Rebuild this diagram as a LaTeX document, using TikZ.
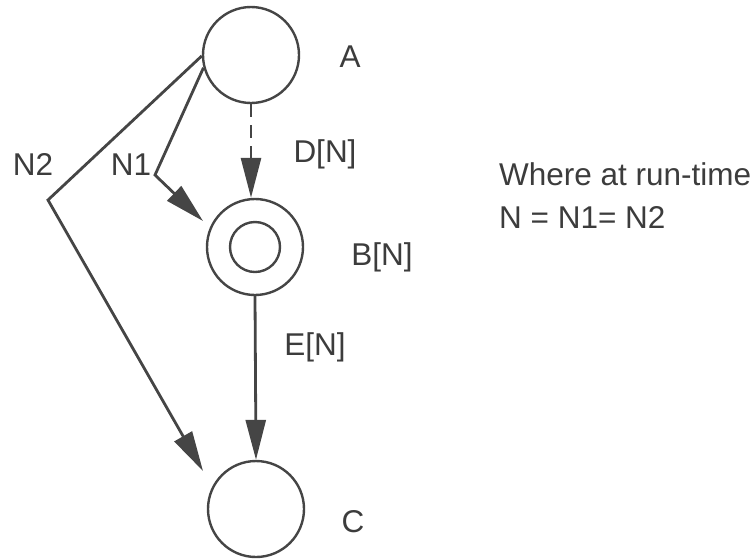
\documentclass[tikz,border=0pt]{standalone}
\usepackage{fontspec}
\setmainfont{Liberation Sans}
\usetikzlibrary{arrows.meta}
\definecolor{ink}{HTML}{454545}
\definecolor{txt}{HTML}{3C3C3C}
\begin{document}
\begin{tikzpicture}[x=1pt,y=-1pt,
  state/.style={circle,draw=ink,line width=2.4pt,minimum size=96pt,inner sep=0pt},
  inner/.style={circle,draw=ink,line width=2.4pt,minimum size=50pt,inner sep=0pt},
  lbl/.style={text=txt,anchor=base,inner sep=0pt,font=\fontsize{31.5}{43}\selectfont},
  conn/.style={draw=ink,line width=2.8pt,line join=miter,-{Triangle[length=40pt,width=20pt]}},
  dashconn/.style={conn,dash pattern=on 13pt off 8pt}]
  \useasboundingbox (0,0) rectangle (754,558);

  % states
  \node[state] (A) at (251,55) {};
  \node[state] (B) at (255,247) {};
  \node[inner] (Bi) at (255,247) {};
  \node[state] (C) at (256,509) {};

  % bend points and free ends of the N1 / N2 connectors
  \coordinate (n1bend) at (155,175);
  \coordinate (n1end) at (203,221);
  \coordinate (n2bend) at (48,200);
  \coordinate (n2end) at (203,471);

  % connectors
  \draw[dashconn] (A.south) -- (A.south |- B.north);
  \draw[conn] (B.south) -- (C.north);
  \draw[conn] (A.195) -- (n1bend) -- (n1end);
  \draw[conn] (A.181) -- (n2bend) -- (n2end);

  % labels
  \node[lbl] (la) at (350,67) {A};
  \node[lbl] (ld) at (325,162) {D[N]};
  \node[lbl] (lb) at (382,265) {B[N]};
  \node[lbl] (le) at (315,355) {E[N]};
  \node[lbl] (lc) at (353,532) {C};
  \node[lbl] (ln2) at (33,175) {N2};
  \node[lbl] (ln1) at (131,175) {N1};

  % run-time note
  \node[lbl,anchor=base west] (note1) at (499,185) {Where at run-time};
  \node[lbl,anchor=base west] (note2) at (499,228) {N = N1= N2};
\end{tikzpicture}
\end{document}
